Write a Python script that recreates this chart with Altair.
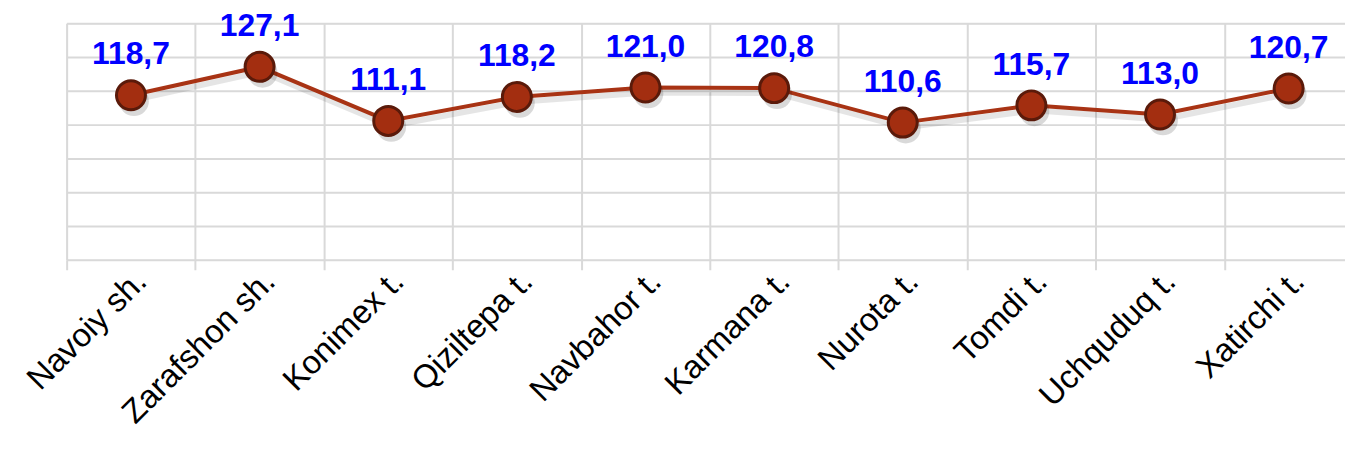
import altair as alt
import pandas as pd

districts = ["Navoiy sh.", "Zarafshon sh.", "Konimex t.", "Qiziltepa t.", "Navbahor t.",
             "Karmana t.", "Nurota t.", "Tomdi t.", "Uchquduq t.", "Xatirchi t."]
values = [118.7, 127.1, 111.1, 118.2, 121.0, 120.8, 110.6, 115.7, 113.0, 120.7]
y_ticks = [70, 80, 90, 100, 110, 120, 130, 140]

df = pd.DataFrame({
    "district": districts,
    "value": values,
    "label": [f"{v:.1f}".replace(".", ",") for v in values],
})

FONT = "Liberation Sans"

x = alt.X("district:N", sort=districts, title=None,
          scale=alt.Scale(range=[0, 1294], paddingInner=0, paddingOuter=0),
          axis=alt.Axis(tickBand="extent", grid=True, gridColor="#d9d9d9", gridWidth=2,
                        domain=False, ticks=True, tickColor="#d9d9d9", tickWidth=2, tickSize=10,
                        labelAngle=315, labelAlign="right", labelBaseline="middle",
                        labelFont=FONT, labelFontSize=33, labelColor="#000000",
                        labelPadding=6, labelOffset=10, labelOverlap=False, labelLimit=400))
y = alt.Y("value:Q", title=None,
          scale=alt.Scale(domain=[70, 140], nice=False, zero=False),
          axis=alt.Axis(values=y_ticks, grid=True, gridColor="#d9d9d9", gridWidth=2,
                        domain=False, ticks=False, labels=False))

base = alt.Chart(df)

shadow_line = base.mark_line(color="#000000", opacity=0.10, strokeWidth=6,
                             xOffset=2, yOffset=5).encode(x=x, y=y)
line = base.mark_line(color="#A83314", strokeWidth=4).encode(x=x, y=y)
shadow_pts = base.mark_circle(color="#000000", opacity=0.15, size=900,
                              xOffset=3, yOffset=6).encode(x=x, y=y)
pts = base.mark_point(filled=True, fill="#A32E10", stroke="#5A1A0A", strokeWidth=3,
                      size=850, opacity=1, shape="circle").encode(x=x, y=y)
text = base.mark_text(font=FONT, fontSize=32, fontWeight="bold", color="#0000FF",
                      baseline="alphabetic", dy=-31).encode(x=x, y=y, text="label:N")

chart = (shadow_line + line + shadow_pts + pts + text).properties(
    width=1286, height=238,
    autosize=alt.AutoSizeParams(type="none"),
    padding={"left": 59, "top": 14, "right": 0, "bottom": 191},
).configure_view(stroke=None).configure(background="#ffffff")

chart.save("out.html", embed_options={"renderer": "svg", "actions": False})
